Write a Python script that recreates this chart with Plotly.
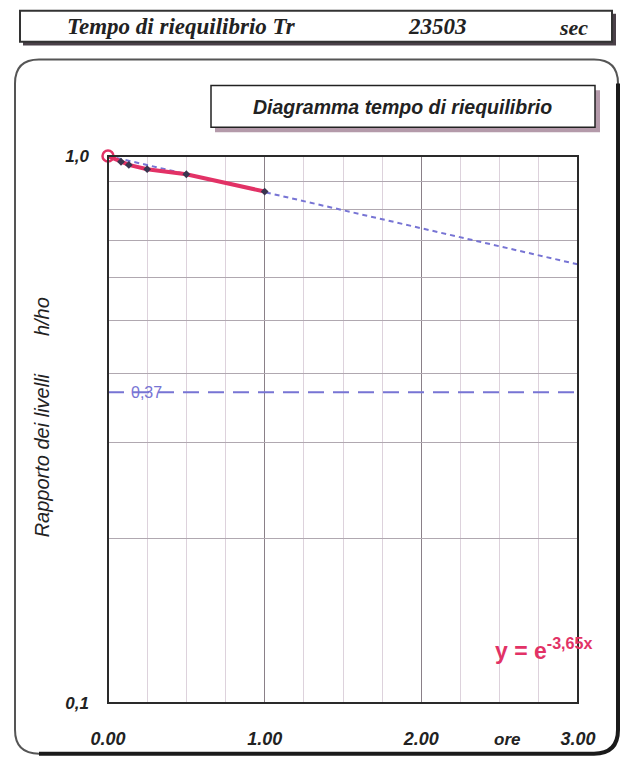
import math
import plotly.graph_objects as go

# ---- data -------------------------------------------------------------
time_h = [0.0, 0.083, 0.133, 0.25, 0.5, 1.0]          # ore
ratio = [1.0, 0.976, 0.963, 0.946, 0.926, 0.861]      # h/ho
tr_sec = 23503                                         # tempo di riequilibrio
k_day = 3.65                                           # coefficient of y = e^(-k x), x in days
level_37 = 0.37
trend_x = [0.0, 3.0]
x_major = [0, 1, 2, 3]
x_major_text = ["0.00", "1.00", "2.00", "3.00"]
x_minor = [0.25, 0.5, 0.75, 1.25, 1.5, 1.75, 2.25, 2.5, 2.75]
y_ticks = [0.1, 0.2, 0.3, 0.4, 0.5, 0.6, 0.7, 0.8, 0.9, 1.0]
y_text = ["0,1", "", "", "", "", "", "", "", "", "1,0"]

# ---- page geometry (pixels) ------------------------------------------
WIDTH, HEIGHT = 627, 761
L, R, T, B = 108, 578, 156, 706
PW, PH = R - L, B - T


def px(x):
    return (x - L) / PW


def py(y):
    return (B - y) / PH


BLUE = "#7774d4"
RED = "#e23266"
INK = "#222222"
SANS = "Liberation Sans, Arial, sans-serif"
SERIF = "Liberation Serif, Times New Roman, serif"

fig = go.Figure()

# trend line from the fitted exponential (x in hours -> days)
trend_y = [math.exp(-k_day * t / 24.0) for t in trend_x]
fig.add_trace(go.Scatter(x=trend_x, y=trend_y, mode="lines",
                         line=dict(color=BLUE, width=2, dash="5px,4px"),
                         hoverinfo="skip"))
# 0.37 reference level
fig.add_trace(go.Scatter(x=trend_x, y=[level_37, level_37], mode="lines",
                         line=dict(color=BLUE, width=2, dash="16px,9px"),
                         hoverinfo="skip"))
# measured data
fig.add_trace(go.Scatter(x=time_h, y=ratio, mode="lines",
                         line=dict(color=RED, width=4)))
fig.add_trace(go.Scatter(x=time_h[1:], y=ratio[1:], mode="markers",
                         marker=dict(symbol="diamond", size=6, color="#3a3550")))
fig.add_trace(go.Scatter(x=time_h[:1], y=ratio[:1], mode="markers",
                         marker=dict(symbol="circle-open", size=11, color=RED,
                                     line=dict(width=2.5)),
                         cliponaxis=False))


def rounded_rect(x0, y0, x1, y1, r):
    a, b, c, d = px(x0), py(y0), px(x1), py(y1)
    rx, ry = r / PW, r / PH
    return (f"M {a+rx},{b} L {c-rx},{b} Q {c},{b} {c},{b-ry} "
            f"L {c},{d+ry} Q {c},{d} {c-rx},{d} L {a+rx},{d} "
            f"Q {a},{d} {a},{d+ry} L {a},{b-ry} Q {a},{b} {a+rx},{b} Z")


def shadow_edge(x0, y0, x1, y1, r):
    a, b, c, d = px(x0), py(y0), px(x1), py(y1)
    rx, ry = r / PW, r / PH
    return (f"M {c},{b-ry} L {c},{d+ry} Q {c},{d} {c-rx},{d} L {a+rx},{d}")


shapes = [
    # outer rounded frame
    dict(type="path", xref="paper", yref="paper", layer="below",
         path=rounded_rect(15, 59, 618, 757, 24),
         line=dict(color="#555555", width=2), fillcolor="white"),
    dict(type="path", xref="paper", yref="paper", layer="below",
         path=shadow_edge(15, 59, 618, 757, 24),
         line=dict(color="#1a1a1a", width=4)),
    # header box with shadow
    dict(type="rect", xref="paper", yref="paper", layer="below",
         x0=px(23), x1=px(616), y0=py(13), y1=py(45),
         line=dict(width=0), fillcolor="#4a4048"),
    dict(type="rect", xref="paper", yref="paper", layer="below",
         x0=px(20), x1=px(612), y0=py(10), y1=py(41),
         line=dict(color="#333333", width=2), fillcolor="white"),
    # title box with shadow
    dict(type="rect", xref="paper", yref="paper", layer="below",
         x0=px(215), x1=px(600), y0=py(90), y1=py(132),
         line=dict(width=0), fillcolor="#b49aaa"),
    dict(type="rect", xref="paper", yref="paper", layer="below",
         x0=px(211), x1=px(595), y0=py(85), y1=py(127),
         line=dict(color=INK, width=1.5), fillcolor="white"),
    # plot frame
    dict(type="rect", xref="paper", yref="paper", layer="above",
         x0=0, x1=1, y0=0, y1=1, line=dict(color="#2a2a2a", width=2)),
]

annotations = [
    dict(text="<b><i>Tempo di riequilibrio Tr</i></b>", x=px(65), y=py(26),
         xanchor="left", font=dict(family=SERIF, size=23, color=INK)),
    dict(text=f"<b><i>{tr_sec}</i></b>", x=px(437), y=py(26),
         font=dict(family=SERIF, size=23, color=INK)),
    dict(text="<b><i>sec</i></b>", x=px(573), y=py(27),
         font=dict(family=SERIF, size=22, color=INK)),
    dict(text="<b><i>Diagramma tempo di riequilibrio</i></b>", x=px(402), y=py(107),
         font=dict(family=SANS, size=19.5, color=INK)),
    dict(text="<i>Rapporto dei livelli</i>", x=px(42), y=py(457), textangle=-90,
         font=dict(family=SANS, size=20, color=INK)),
    dict(text="<i>h/ho</i>", x=px(42), y=py(318), textangle=-90,
         font=dict(family=SANS, size=20, color=INK)),
    dict(text="<b><i>ore</i></b>", x=px(507), y=py(743),
         font=dict(family=SANS, size=17, color=INK)),
    dict(text="<b>y = e<sup>-3,65x</sup></b>", x=px(493), y=py(652), xanchor="left",
         font=dict(family=SANS, size=23, color=RED)),
    dict(text="0,37", xref="x", yref="y", x=0.245, y=math.log10(level_37),
         font=dict(family=SANS, size=16, color=BLUE)),
]
for a in annotations:
    a.setdefault("xref", "paper")
    a.setdefault("yref", "paper")
    a.setdefault("showarrow", False)
    a.setdefault("yanchor", "middle")
    a.setdefault("xanchor", "center")

fig.update_layout(
    width=WIDTH, height=HEIGHT,
    margin=dict(l=L, r=WIDTH - R, t=T, b=HEIGHT - B, pad=0),
    paper_bgcolor="white", plot_bgcolor="white",
    showlegend=False,
    shapes=shapes, annotations=annotations,
    xaxis=dict(range=[0, 3], tickvals=x_major,
               ticktext=[f"<b><i>{t}</i></b>" for t in x_major_text],
               showgrid=True, gridcolor="#8a8088", gridwidth=1,
               minor=dict(tickvals=x_minor, showgrid=True, gridcolor="#ddd2dc",
                          gridwidth=1, ticks=""),
               zeroline=False, showline=False, ticks="",
               ticklabelstandoff=23,
               tickfont=dict(family=SANS, size=18, color=INK)),
    yaxis=dict(type="log", range=[-1, 0], tickvals=y_ticks,
               ticktext=[f"<b><i>{t}</i></b>" if t else "" for t in y_text],
               showgrid=True, gridcolor="#b0a8b0", gridwidth=1,
               zeroline=False, showline=False, ticks="",
               ticklabelstandoff=18,
               tickfont=dict(family=SANS, size=17, color=INK)),
)

fig.write_html("out.html")
